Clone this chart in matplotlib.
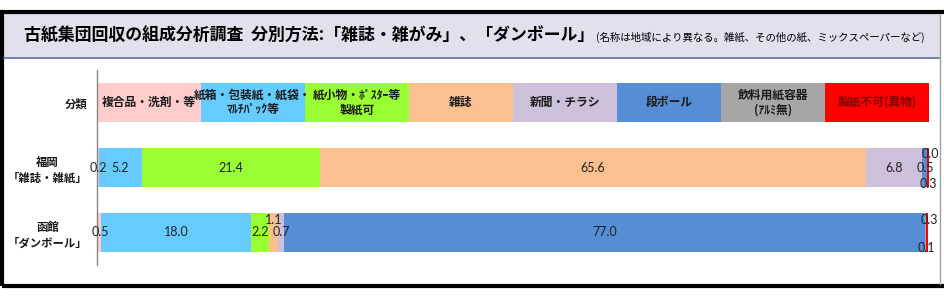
import matplotlib.pyplot as plt
from matplotlib.patches import Rectangle
from matplotlib.lines import Line2D

plt.rcParams['font.family'] = ['Noto Sans CJK JP', 'DejaVu Sans']

# Data
categories = ["複合品・洗剤・等", "紙箱・包装紙・紙袋・\nﾏﾙﾁﾊﾟｯｸ等", "紙小物・ﾎﾟｽﾀｰ等\n製紙可",
              "雑誌", "新聞・チラシ", "段ボール", "飲料用紙容器\n(ｱﾙﾐ無)", "製紙不可(異物)"]
row_labels = ["分類", "福岡\n「雑誌・雑紙」", "函館\n「ダンボール」"]
header_share = [12.5, 12.5, 12.5, 12.5, 12.5, 12.5, 12.5, 12.5]
fukuoka = [0.2, 5.2, 21.4, 65.6, 6.8, 0.5, 0.0, 0.3]
hakodate = [0.5, 18.0, 2.2, 1.1, 0.7, 77.0, 0.1, 0.3]

colors = ["#FFCCCC", "#66CCFF", "#99FF33", "#FAC090",
          "#CCC0DA", "#558ED5", "#A6A6A6", "#FF0000"]

# label nudges in pixels (dx, dy) for the thin segments
fk_offsets = {0: (1, 0), 5: (1, 0), 6: (4, 14), 7: (1, -17)}
hk_offsets = {0: (1, 0), 3: (0, 12), 6: (1, -16), 7: (2, 12)}

W, H = 945, 300
fig = plt.figure(figsize=(W / 100, H / 100), dpi=100)


def fx(x):
    return x / W


def fy(y):
    return 1 - y / H


# Outer frame and title band
fig.add_artist(Rectangle((fx(4), fy(57)), fx(936), 43 / H, transform=fig.transFigure,
                         facecolor="#E4DFEC", edgecolor="none"))
fig.add_artist(Line2D([fx(4), fx(940)], [fy(57.5), fy(57.5)], transform=fig.transFigure,
                      color="#5A6C8C", lw=1.2))
fig.add_artist(Line2D([fx(940), fx(940)], [fy(14), fy(284)], transform=fig.transFigure,
                      color="#A0A0A0", lw=1.0))
fig.add_artist(Rectangle((fx(2), fy(286)), fx(950), 274 / H, transform=fig.transFigure,
                         facecolor="none", edgecolor="black", lw=3.0))

fig.text(fx(24), fy(36), "古紙集団回収の組成分析調査  分別方法:「雑誌・雑がみ」、「ダンボール」",
         fontsize=12.2, fontweight="bold", va="center", ha="left")
fig.text(fx(596), fy(37), "(名称は地域により異なる。雑紙、その他の紙、ミックスペーパーなど)",
         fontsize=7.5, va="center", ha="left")

# Chart
ax = fig.add_axes([fx(97), fy(265), fx(832), 195 / H])
rows = [header_share, fukuoka, hakodate]
for r, vals in enumerate(rows):
    left = 0
    for i, v in enumerate(vals):
        ax.barh(r, v, left=left, height=0.6, color=colors[i], edgecolor="none")
        cx = left + v / 2
        if r == 0:
            ax.text(cx, r, categories[i], ha="center", va="center", fontsize=8.5,
                    linespacing=1.15, fontweight="bold",
                    color="#800000" if i == 7 else "#1A1A1A")
        else:
            offs = fk_offsets if r == 1 else hk_offsets
            dx, dy = offs.get(i, (0, 0))
            ax.annotate(f"{v:.1f}", (cx, r), xytext=(dx, dy), textcoords="offset pixels",
                        ha="center", va="center", fontsize=9, family="Lato",
                        color="#222222")
        left += v

ax.set_xlim(0, 100)
ax.set_ylim(2.5, -0.5)
ax.set_yticks(range(3))
ax.set_yticklabels(row_labels, fontsize=8.2, multialignment="center", linespacing=1.25,
                   fontweight="bold", color="#1A1A1A")
ax.tick_params(axis="y", length=0, pad=7)
ax.set_xticks([])
for s in ["top", "right", "bottom"]:
    ax.spines[s].set_visible(False)
ax.spines["left"].set_color("#868686")
ax.spines["left"].set_linewidth(1.0)

fig.savefig("out.png", dpi=100)
